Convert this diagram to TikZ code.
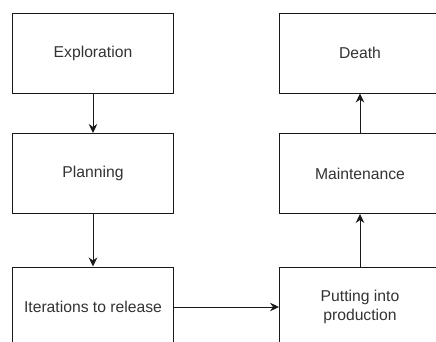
\documentclass[tikz,border=0pt]{standalone}
\usepackage{fontspec}
\setmainfont{Liberation Sans}
\usetikzlibrary{arrows.meta}
\begin{document}
\begin{tikzpicture}[x=1pt,y=1pt,
  stagebox/.style={draw=black!90,line width=0.95pt,minimum width=161pt,minimum height=80pt,inner sep=0pt,align=center,font=\fontsize{15.7}{19.5}\selectfont,text=black!80},
  flow/.style={draw=black!90,line width=0.95pt,-{Stealth[length=9pt,width=8.5pt]}}]
\useasboundingbox (0,0) rectangle (436,-342);
\clip (0,0) rectangle (436,-342);
\fill[white] (0,0) rectangle (436,-342);
\node[stagebox] (expl) at (93,-53) {Exploration};
\node[stagebox] (plan) at (93,-173.5) {Planning};
\node[stagebox] (iter) at (93,-307) {Iterations to release};
\node[stagebox] (prod) at (360,-307) {Putting into\\production};
\node[stagebox] (maint) at (360,-173.5) {Maintenance};
\node[stagebox] (death) at (360,-53) {Death};
\draw[flow] (expl) -- (plan);
\draw[flow] (plan) -- (iter);
\draw[flow] (iter) -- (prod);
\draw[flow] (prod) -- (maint);
\draw[flow] (maint) -- (death);
\end{tikzpicture}
\end{document}
